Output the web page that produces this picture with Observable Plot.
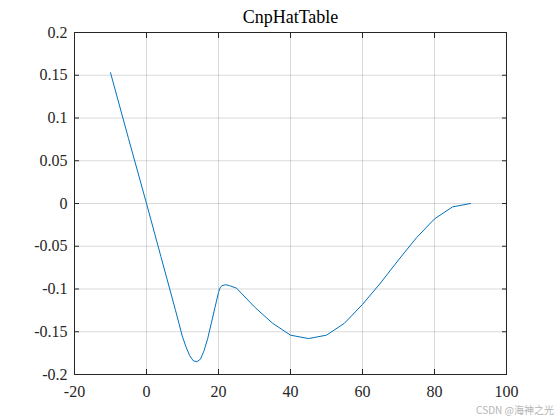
<!DOCTYPE html>
<html>
<head>
<meta charset="utf-8">
<script src="https://cdn.jsdelivr.net/npm/d3@7"></script>
<script src="https://cdn.jsdelivr.net/npm/@observablehq/plot@0.6"></script>
<style>
  html, body { margin: 0; padding: 0; background: #fff; }
  #wrap { position: relative; width: 560px; height: 420px; }
  #wm { position: absolute; right: 6px; top: 402px; font: 10px "Noto Sans CJK SC", "Noto Sans", sans-serif; color: #b4b4b4; white-space: nowrap; }
</style>
</head>
<body>
<div id="wrap"><div id="wm">CSDN @海神之光</div></div>
<script>
const titleText = "CnpHatTable";
const xs = [-10, -5, 0, 4, 8, 10, 11, 12, 13, 14, 15, 16, 17, 18, 19, 20, 20.5, 21, 22, 23, 25, 30, 35, 40, 45, 50, 55, 60, 65, 70, 75, 80, 85, 90];
const ys = [0.153, 0.076, 0.0, -0.062, -0.124, -0.156, -0.168, -0.178, -0.184, -0.185, -0.182, -0.172, -0.158, -0.140, -0.122, -0.104, -0.098, -0.096, -0.095, -0.096, -0.099, -0.121, -0.140, -0.154, -0.158, -0.154, -0.140, -0.118, -0.093, -0.066, -0.040, -0.018, -0.004, 0.0];
const xTicks = [-20, 0, 20, 40, 60, 80, 100];
const yTicks = [-0.2, -0.15, -0.1, -0.05, 0, 0.05, 0.1, 0.15, 0.2];

const data = xs.map((x, i) => ({x, y: ys[i]}));
const fmt = d => String(+d.toFixed(2));
const blank = () => "";
const font = "'Liberation Serif', 'Times New Roman', serif";

const chart = Plot.plot({
  width: 560,
  height: 420,
  marginLeft: 74,
  marginRight: 54,
  marginTop: 32,
  marginBottom: 46,
  style: {fontFamily: font, background: "#fff", color: "#262626"},
  x: {domain: [-20, 100]},
  y: {domain: [-0.2, 0.2]},
  marks: [
    Plot.gridX(xTicks, {stroke: "#000", strokeOpacity: 0.15}),
    Plot.gridY(yTicks, {stroke: "#000", strokeOpacity: 0.15}),
    Plot.line(data, {x: "x", y: "y", stroke: "#0072BD", strokeWidth: 1}),
    Plot.axisX(xTicks, {anchor: "bottom", tickSize: -5, tickFormat: fmt, tickPadding: 16, fontSize: 16, label: null, stroke: "#262626", fill: "#262626"}),
    Plot.axisX(xTicks, {anchor: "top", tickSize: -5, tickFormat: blank, label: null, stroke: "#262626"}),
    Plot.axisY(yTicks, {anchor: "left", tickSize: -5, tickFormat: fmt, tickPadding: 12, fontSize: 16, label: null, stroke: "#262626", fill: "#262626"}),
    Plot.axisY(yTicks, {anchor: "right", tickSize: -5, tickFormat: blank, label: null, stroke: "#262626"}),
    Plot.frame({stroke: "#262626"}),
    Plot.text([titleText], {frameAnchor: "top", dy: -10, fontSize: 18, fill: "#000", fontFamily: font, lineAnchor: "bottom"})
  ]
});
document.getElementById("wrap").prepend(chart);
</script>
</body>
</html>
